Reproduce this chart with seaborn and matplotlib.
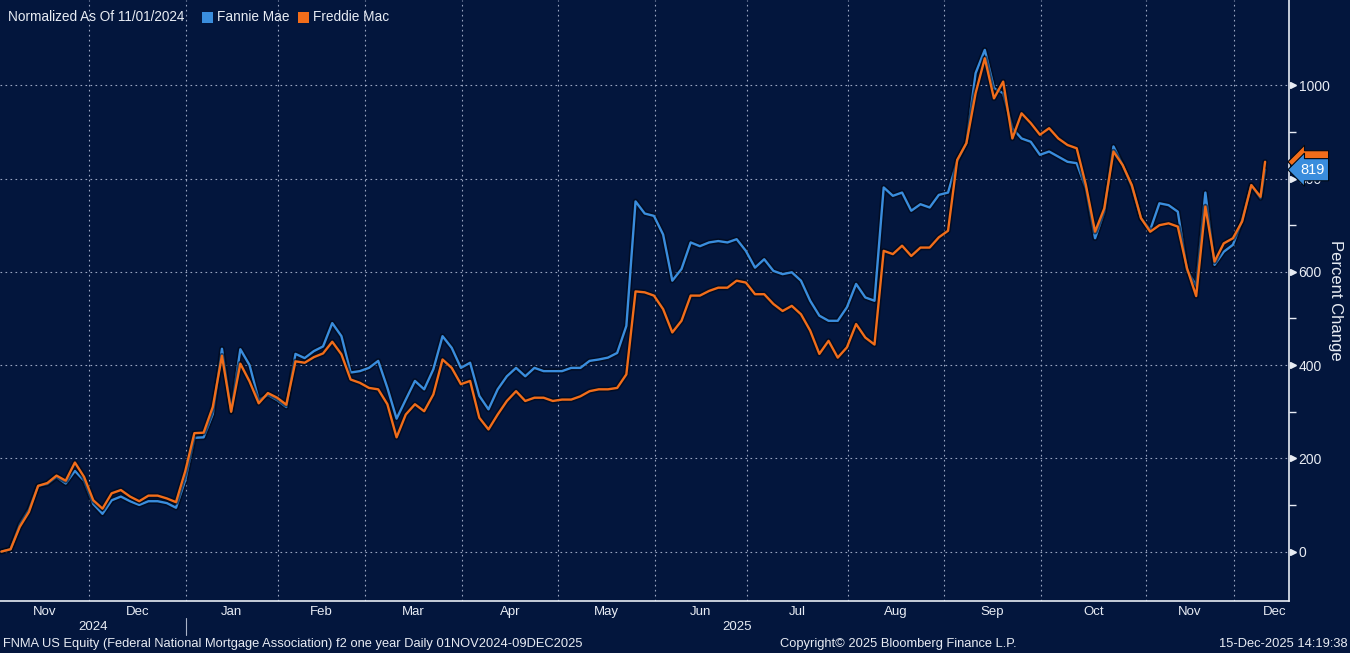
import pandas as pd
import seaborn as sns
import matplotlib.pyplot as plt
import matplotlib.patheffects as pe
import matplotlib.transforms as mtransforms
from matplotlib.patches import Rectangle

# NYSE trading calendar for the window on the chart
start, end = '2024-11-01', '2025-12-09'
holidays = ['2024-11-28', '2024-12-25', '2025-01-01', '2025-01-09', '2025-01-20',
            '2025-02-17', '2025-04-18', '2025-05-26', '2025-06-19', '2025-07-04',
            '2025-09-01', '2025-11-27']

# percent change since 11/01/2024, read every 2nd trading day + last day
fannie = [0, 5, 58, 90, 141, 145, 160, 146, 173, 152,
          102, 81, 110, 118, 108, 100, 108, 108, 104, 94,
          153, 244, 245, 295, 435, 300, 434, 400, 325, 336,
          325, 310, 424, 415, 430, 440, 490, 462, 384, 387,
          394, 409, 351, 285, 326, 366, 348, 391, 462, 437,
          394, 405, 334, 305, 348, 376, 394, 376, 394, 387,
          387, 387, 394, 394, 409, 412, 416, 426, 484, 751,
          725, 720, 680, 581, 606, 663, 655, 663, 666, 663,
          670, 645, 609, 627, 602, 595, 599, 581, 538, 506,
          495, 495, 524, 574, 545, 538, 781, 763, 770, 731,
          745, 738, 765, 770, 838, 876, 1026, 1076, 994, 983,
          908, 886, 879, 851, 858, 847, 836, 833, 779, 672,
          729, 869, 829, 783, 715, 690, 747, 743, 729, 604,
          570, 770, 615, 643, 658, 711, 786, 758, 819]
freddie = [0, 5, 53, 85, 141, 147, 163, 152, 191, 160,
           110, 92, 125, 132, 118, 108, 120, 120, 114, 106,
           172, 254, 255, 310, 420, 300, 403, 365, 318, 340,
           330, 315, 408, 405, 417, 425, 450, 423, 369, 362,
           351, 348, 316, 245, 294, 316, 301, 337, 412, 394,
           359, 366, 287, 262, 294, 323, 344, 323, 330, 330,
           323, 326, 326, 333, 344, 348, 348, 351, 380, 558,
           556, 549, 520, 470, 495, 549, 549, 559, 566, 566,
           581, 577, 552, 552, 531, 516, 527, 509, 474, 424,
           452, 416, 438, 488, 459, 444, 645, 638, 656, 634,
           652, 652, 674, 688, 840, 876, 983, 1058, 972, 1008,
           886, 940, 919, 894, 908, 886, 872, 865, 786, 686,
           736, 858, 829, 786, 715, 686, 700, 704, 697, 608,
           548, 740, 622, 661, 672, 708, 786, 761, 836]

series_names = ['Fannie Mae', 'Freddie Mac']
colors = ['#3a8ddd', '#f26d1a']
yticks = [0, 200, 400, 600, 800, 1000]

BG = '#03163d'
FG = '#e8ecf4'

dates = pd.bdate_range(start, end, freq='C', holidays=holidays)
n = len(dates)
day_idx = list(range(0, n, 2))
if day_idx[-1] != n - 1:
    day_idx.append(n - 1)

df = pd.concat([
    pd.DataFrame({'day': day_idx, 'pct': fannie, 'series': series_names[0]}),
    pd.DataFrame({'day': day_idx, 'pct': freddie, 'series': series_names[1]}),
])

sns.set_style('dark')
plt.rcParams['font.family'] = ['Liberation Sans', 'DejaVu Sans']

fig = plt.figure(figsize=(13.5, 6.53), dpi=100, facecolor=BG)
ax = fig.add_axes([0, 52 / 653, 1289 / 1350, 601 / 653])
ax.set_facecolor(BG)

sns.lineplot(data=df, x='day', y='pct', hue='series', palette=colors,
             hue_order=series_names, legend=False, lw=1.7, ax=ax)
for ln in ax.lines:
    ln.set_path_effects([pe.Stroke(linewidth=4, foreground='#000510', alpha=0.55), pe.Normal()])

xmax = n - 1 + 5.2
ax.set_xlim(-0.3, xmax)
ax.set_ylim(-106, 1183)

# month boundaries (grid sits just before first trading day of each month)
months = pd.Series(range(n), index=dates).groupby([dates.year, dates.month]).min()
bounds = [v - 0.85 for v in months.values[1:]]
labels = [pd.Timestamp(year=y, month=m, day=1).strftime('%b') for (y, m) in months.index]
edges = [-0.3] + bounds + [xmax + 6]

ax.set_xticks(bounds)
ax.set_xticklabels([])
ax.set_yticks(yticks)
ax.set_yticks([v + 100 for v in yticks[:-1]], minor=True)
ax.yaxis.tick_right()
ax.yaxis.set_label_position('right')
ax.set_yticklabels([str(v) for v in yticks], color=FG, fontsize=10)
ax.tick_params(axis='y', which='major', length=0, pad=7)
ax.tick_params(axis='y', which='minor', length=5, color=FG, width=1, direction='out')
ax.tick_params(axis='x', length=4, color=FG, width=1, direction='out')
ax.set_xlabel('')
ax.set_ylabel('Percent Change', color=FG, fontsize=12, rotation=270, labelpad=10)

ax.grid(True, which='major', color='#9aa6c2', lw=0.8, linestyle=(0, (1.5, 3)))
for side in ['top', 'left']:
    ax.spines[side].set_visible(False)
for side in ['bottom', 'right']:
    ax.spines[side].set_visible(True)
    ax.spines[side].set_color(FG)
    ax.spines[side].set_linewidth(1.2)

# triangle markers for the major y ticks
ytr = mtransforms.blended_transform_factory(ax.transAxes, ax.transData)
ax.plot([1.003] * len(yticks), yticks, '>', ms=5, color=FG, transform=ytr, clip_on=False)

# month and year labels
xtr = ax.get_xaxis_transform()
for i, lab in enumerate(labels):
    cx = (edges[i] + edges[i + 1]) / 2
    ax.text(cx, -0.019, lab, transform=xtr, ha='center', va='center', color=FG, fontsize=9.5)
jan = bounds[labels[1:].index('Jan')]
ax.text((edges[0] + jan) / 2, -0.043, '2024', transform=xtr, ha='center', va='center',
        color=FG, fontsize=9.5)
ax.text((jan + xmax) / 2, -0.043, '2025', transform=xtr, ha='center', va='center',
        color=FG, fontsize=9.5)
ax.plot([jan, jan], [-0.028, -0.057], transform=xtr, color='#aab3c8', lw=0.8, clip_on=False)

# last value tags: Freddie's sits behind Fannie's, only its top edge shows
for vals, c, tc in [(freddie, colors[1], colors[1]), (fannie, colors[0], 'white')]:
    ax.annotate(str(vals[-1]), xy=(1.0, vals[-1]), xycoords=ytr, xytext=(8, 0),
                textcoords='offset points', ha='left', va='center', fontsize=10.5, color=tc,
                bbox=dict(boxstyle='larrow,pad=0.28', fc=c, ec='#000814', lw=0.8),
                annotation_clip=False)

# legend row
fig.text(8 / 1350, 1 - 17 / 653, 'Normalized As Of 11/01/2024', color=FG, fontsize=9.8, va='center')
for xs, name, c in [(202, series_names[0], colors[0]), (298, series_names[1], colors[1])]:
    fig.patches.append(Rectangle((xs / 1350, 1 - 23 / 653), 11 / 1350, 11 / 653,
                                 transform=fig.transFigure, fc=c, ec='none'))
    fig.text((xs + 15) / 1350, 1 - 17 / 653, name, color=FG, fontsize=9.8, va='center')

# footer
fig.text(3 / 1350, 9 / 653, 'FNMA US Equity (Federal National Mortgage Association) f2 one year '
         'Daily 01NOV2024-09DEC2025', color=FG, fontsize=9.3, va='center')
fig.text(898 / 1350, 9 / 653, 'Copyright© 2025 Bloomberg Finance L.P.', color=FG, fontsize=9.3,
         va='center', ha='center')
fig.text(1348 / 1350, 9 / 653, '15-Dec-2025 14:19:38', color=FG, fontsize=9.3, va='center', ha='right')

fig.savefig('out.png', dpi=100, facecolor=BG)
